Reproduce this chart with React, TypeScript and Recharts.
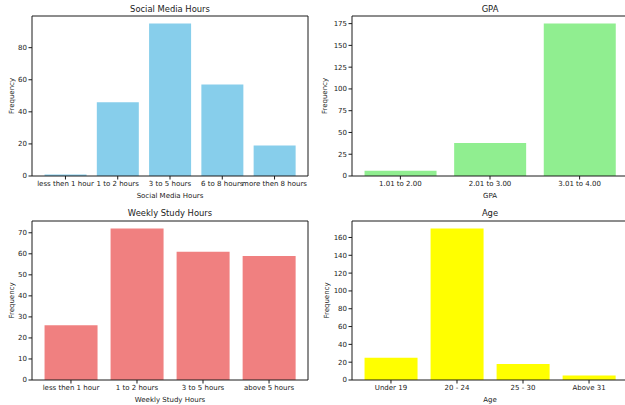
import React from "react";
import { BarChart, Bar, XAxis, YAxis } from "recharts";

// category labels and counts for each panel
const socialCats = ["less then 1 hour", "1 to 2 hours", "3 to 5 hours", "6 to 8 hours", "more then 8 hours"];
const socialVals = [1, 46, 95, 57, 19];
const socialTicks = [0, 20, 40, 60, 80];

const gpaCats = ["1.01 to 2.00", "2.01 to 3.00", "3.01 to 4.00"];
const gpaVals = [6, 38, 175];
const gpaTicks = [0, 25, 50, 75, 100, 125, 150, 175];

const studyCats = ["less then 1 hour", "1 to 2 hours", "3 to 5 hours", "above 5 hours"];
const studyVals = [26, 72, 61, 59];
const studyTicks = [0, 10, 20, 30, 40, 50, 60, 70];

const ageCats = ["Under 19", "20 - 24", "25 - 30", "Above 31"];
const ageVals = [25, 170, 18, 5];
const ageTicks = [0, 20, 40, 60, 80, 100, 120, 140, 160];

const FONT = "DejaVu Sans";
const INK = "#1a1a1a";
const PLOT_W = 276;
const Y_AXIS_W = 32;

interface PanelProps {
	x: number;
	y: number;
	top: number;
	plotH: number;
	axisH: number;
	title: string;
	titleDy: number;
	xLabel: string;
	yLabelGap: number;
	cats: string[];
	vals: number[];
	ticks: number[];
	color: string;
}

const Panel: React.FC<PanelProps> = (p) => {
	const data = p.cats.map((name, i) => ({ name, value: p.vals[i] }));
	const n = p.cats.length;
	// matplotlib-like x limits: bars of 0.8 width plus 5% margins
	const step = PLOT_W / (1.1 * (n - 0.2));
	const pad = (PLOT_W - n * step) / 2;
	const yMax = Math.max(...p.vals) * 1.05;

	return (
		<div style={{ position: "absolute", left: p.x, top: p.y }}>
			<BarChart
				width={Y_AXIS_W + PLOT_W + 2}
				height={p.top + p.plotH + p.axisH}
				data={data}
				barCategoryGap="10%"
				margin={{ top: p.top - 1, right: 1, bottom: 0, left: 0 }}>
				<XAxis
					dataKey="name"
					interval={0}
					height={p.axisH}
					padding={{ left: pad, right: pad }}
					tickSize={3.5}
					tickMargin={1.5}
					tick={{ fontSize: 7, fill: INK, fontFamily: FONT }}
					axisLine={{ stroke: INK }}
					tickLine={{ stroke: INK }}
					label={(lp: any) => {
						const vb = lp.viewBox;
						return (
							<text x={vb.x + vb.width / 2} y={vb.y + 20} textAnchor="middle" dominantBaseline="central" fontSize={7} fill={INK} fontFamily={FONT}>
								{p.xLabel}
							</text>
						);
					}}
				/>
				<XAxis
					xAxisId="top"
					orientation="top"
					dataKey="name"
					height={1}
					tickSize={0}
					tick={false}
					tickLine={false}
					axisLine={{ stroke: INK }}
					label={(lp: any) => {
						const vb = lp.viewBox;
						return (
							<text x={vb.x + vb.width / 2} y={vb.y + vb.height - p.titleDy} textAnchor="middle" dominantBaseline="central" fontSize={8.4} fill={INK} fontFamily={FONT}>
								{p.title}
							</text>
						);
					}}
				/>
				<YAxis
					type="number"
					width={Y_AXIS_W}
					domain={[0, yMax]}
					ticks={p.ticks}
					tickSize={3.5}
					tickMargin={1.5}
					tick={{ fontSize: 7, fill: INK, fontFamily: FONT }}
					axisLine={{ stroke: INK }}
					tickLine={{ stroke: INK }}
					label={(lp: any) => {
						const vb = lp.viewBox;
						const cx = vb.x + vb.width - p.yLabelGap;
						const cy = vb.y + vb.height / 2;
						return (
							<text x={cx} y={cy} transform={`rotate(-90, ${cx}, ${cy})`} textAnchor="middle" dominantBaseline="central" fontSize={7} fill={INK} fontFamily={FONT}>
								Frequency
							</text>
						);
					}}
				/>
				<YAxis yAxisId="right" orientation="right" width={1} tickSize={0} tick={false} tickLine={false} axisLine={{ stroke: INK }} />
				<Bar dataKey="value" fill={p.color} isAnimationActive={false} />
			</BarChart>
		</div>
	);
};

export default function App() {
	return (
		<div
			style={{
				position: "absolute",
				left: 0,
				top: 0,
				width: 625,
				height: 405,
				overflow: "hidden",
				background: "#fff",
				fontFamily: FONT,
			}}>
			<Panel x={0} y={0} top={16} plotH={160} axisH={24} title="Social Media Hours" titleDy={6.7} xLabel="Social Media Hours" yLabelGap={20.3} cats={socialCats} vals={socialVals} ticks={socialTicks} color="#87CEEB" />
			<Panel x={320} y={0} top={16} plotH={160} axisH={24} title="GPA" titleDy={6.7} xLabel="GPA" yLabelGap={27} cats={gpaCats} vals={gpaVals} ticks={gpaTicks} color="#90EE90" />
			<Panel x={0} y={200} top={21} plotH={159} axisH={25} title="Weekly Study Hours" titleDy={7.7} xLabel="Weekly Study Hours" yLabelGap={20.3} cats={studyCats} vals={studyVals} ticks={studyTicks} color="#F08080" />
			<Panel x={320} y={200} top={21} plotH={159} axisH={25} title="Age" titleDy={7.7} xLabel="Age" yLabelGap={25.3} cats={ageCats} vals={ageVals} ticks={ageTicks} color="#FFFF00" />
		</div>
	);
}
